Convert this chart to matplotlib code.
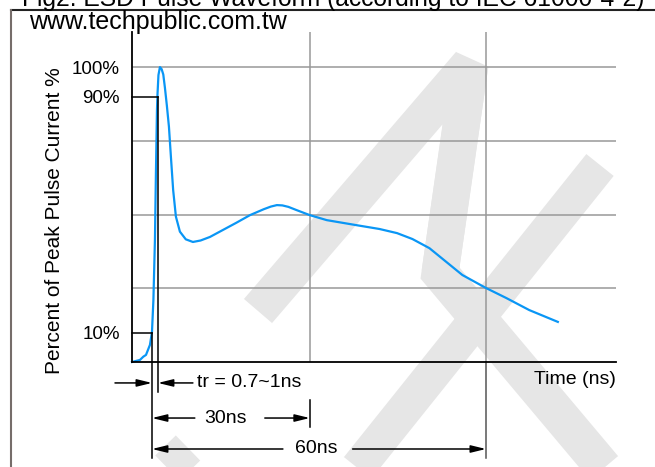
import matplotlib
matplotlib.use("Agg")
import matplotlib.pyplot as plt
from matplotlib.lines import Line2D

plt.rcParams['font.family'] = ['Liberation Sans', 'DejaVu Sans']

# ESD current waveform (drawing time units, % of peak)
time_ns = [0.0, 1.45, 2.06, 2.55, 3.27, 3.64, 3.9, 4.18, 4.36, 4.55, 4.64, 4.82,
           5.09, 5.4, 5.7, 6.0, 6.35, 6.73, 7.09, 7.5, 8.0, 8.73, 9.8, 11.1, 12.5,
           14.2, 16.5, 19.0, 21.5, 24.0, 25.3, 26.4, 27.4, 28.5, 30.0, 32.4, 35.5,
           40.9, 45.1, 48.3, 51.1, 54.2, 57.3, 60.2, 64.5, 68.2, 72.4, 77.6]
current_pct = [0.0, 0.7, 1.8, 2.4, 5.8, 10.2, 21.0, 41.4, 64.0, 85.4, 90.5, 97.3,
               100.0, 99.3, 97.5, 93.0, 87.0, 79.8, 69.6, 58.3, 49.3, 44.2, 41.6, 40.7, 41.2,
               42.4, 44.7, 47.2, 49.8, 51.8, 52.7, 53.2, 53.1, 52.6, 51.5, 49.8, 48.1,
               46.4, 45.1, 43.7, 41.7, 38.6, 33.9, 29.5, 25.1, 21.7, 17.6, 13.6]

grid_levels = [25, 50, 75, 100]
tick_levels = [10, 90, 100]
tick_labels = ['10%', '90%', '100%']

# reference points of the drawing (not to scale, as in the original)
t10, t90 = 3.64, 4.73      # 10% / 90% crossings
t30, t60 = 32.4, 64.5      # 30ns / 60ns marks

W, H = 655, 467
fig = plt.figure(figsize=(W / 100, H / 100), dpi=100)
ax = fig.add_axes([132 / W, 105 / H, 484 / W, 330.3 / H])
ax.patch.set_alpha(0)


def fpx(x, y):
    return x / W, 1 - y / H


# light grey watermark logo behind everything
wm = '#e6e6e6'
for pts, width, join in [([(258, 311), (470, 64), (440, 273)], 37, 'bevel'),
                         ([(470, 64), (440, 273), (614, 480)], 37, 'miter'),
                         ([(600, 165), (348, 480)], 35, 'miter'),
                         ([(150, 485), (188, 448)], 35, 'miter')]:
    xs, ys = zip(*[fpx(*p) for p in pts])
    fig.add_artist(Line2D(xs, ys, color=wm, lw=width * 0.72, transform=fig.transFigure,
                          solid_capstyle='butt', solid_joinstyle=join, zorder=-5))

# page frame
fig.add_artist(Line2D(*zip(fpx(11, 9.5), fpx(655, 9.5)), color='#222222', lw=1.5,
                      transform=fig.transFigure))
fig.add_artist(Line2D(*zip(fpx(11, 9.5), fpx(11, 467)), color='#766d6a', lw=1.5,
                      transform=fig.transFigure))

fig.text(22 / W, 1 - 6 / H, 'Fig2. ESD Pulse Waveform (according to IEC 61000-4-2)',
         fontsize=17.7, va='baseline')
fig.text(29 / W, 1 - 29.5 / H, 'www.techpublic.com.tw', fontsize=18, va='baseline')

grid_c = '#999999'
for lv in grid_levels:
    ax.axhline(lv, color=grid_c, lw=1.1, zorder=1)
for t in (t30, t60):
    ax.axvline(t, color=grid_c, lw=1.1, zorder=1)

ax.plot(time_ns, current_pct, color='#0a96f5', lw=1.6, zorder=3, clip_on=False,
        solid_joinstyle='round')

ax.set_xlim(0, 88.2)
ax.set_ylim(0, 112)
ax.set_xticks([])
ax.set_yticks(tick_levels, tick_labels)
ax.tick_params(axis='y', length=0, pad=8.6, labelsize=13.5)
for s in ('top', 'right'):
    ax.spines[s].set_visible(False)
for s in ('left', 'bottom'):
    ax.spines[s].set_linewidth(1.3)
    ax.spines[s].set_zorder(4)

fig.text(55 / W, 1 - 221 / H, 'Percent of Peak Pulse Current %', rotation=90,
         ha='center', va='center', fontsize=15)
ax.text(88.2, -5.8, 'Time (ns)', ha='right', va='center', fontsize=14)

# 10% / 90% markers and dimension lines
kw = dict(color='black', lw=1.1, clip_on=False, zorder=4)
ax.plot([0, t10], [10, 10], **kw)
ax.plot([0, t90], [90, 90], **kw)
ax.plot([t10, t10], [10, -32.5], **kw)
ax.plot([t90, t90], [90, -10.2], **kw)
ax.plot([t30, t30], [-12.9, -22.0], **kw)
ax.plot([t60, t60], [0, -32.5], color='#555555', lw=1.1, clip_on=False)


def dim_arrow(tail, head, y):
    ax.annotate('', xy=(head, y), xytext=(tail, y), annotation_clip=False,
                arrowprops=dict(arrowstyle='-|>,head_length=0.9,head_width=0.22',
                                color='black', lw=1.1, shrinkA=0, shrinkB=0))


y_tr, y_30, y_60 = -7.1, -19.0, -29.5
dim_arrow(-3.1, t10, y_tr)
dim_arrow(11.1, t90, y_tr)
ax.text(11.8, y_tr, 'tr = 0.7~1ns', ha='left', va='center', fontsize=14)

dim_arrow(11.45, t10, y_30)
dim_arrow(24.2, t30, y_30)
ax.text(17.1, y_30, '30ns', ha='center', va='center', fontsize=14)

dim_arrow(27.5, t10, y_60)
dim_arrow(40.2, t60, y_60)
ax.text(33.5, y_60, '60ns', ha='center', va='center', fontsize=14)

fig.savefig('out.png', dpi=100)
